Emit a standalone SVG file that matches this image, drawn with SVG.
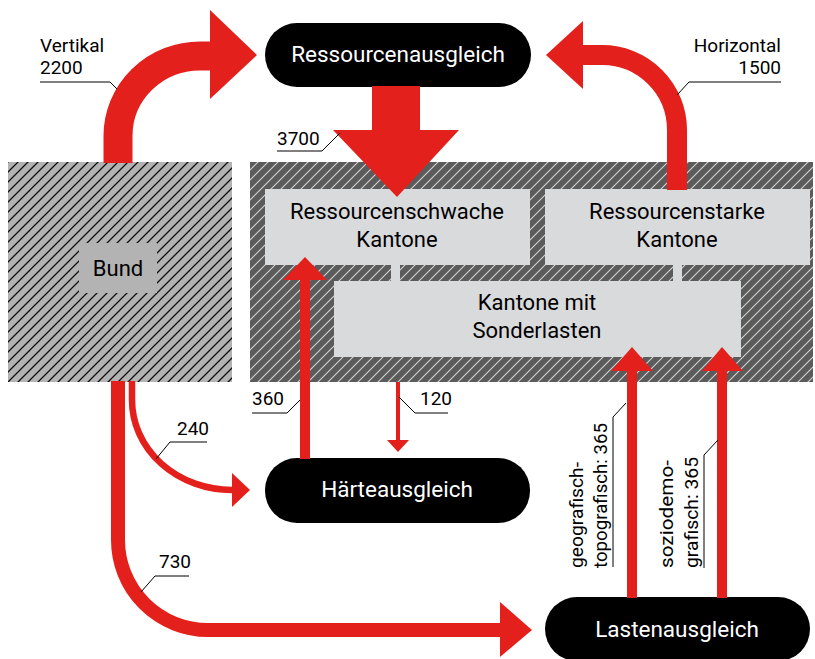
<svg xmlns="http://www.w3.org/2000/svg" width="815" height="659" viewBox="0 0 815 659">
<defs>
<pattern id="hatchBund" patternUnits="userSpaceOnUse" width="10" height="10">
<rect width="10" height="10" fill="#b3b3b3"/>
<path d="M-1,1 L1,-1 M0,10 L10,0 M9,11 L11,9" stroke="#111" stroke-width="1.3"/>
</pattern>
<pattern id="hatchDark" patternUnits="userSpaceOnUse" width="10" height="10">
<rect width="10" height="10" fill="#5b5b5b"/>
<path d="M-1,1 L1,-1 M0,10 L10,0 M9,11 L11,9" stroke="#d2d2d2" stroke-width="1.1"/>
</pattern>
</defs>
<style>
text{font-family:Roboto,"Liberation Sans",sans-serif}
.box{font-size:22px;fill:#000;text-anchor:middle}
.pill{font-size:22.5px;fill:#fff;text-anchor:middle}
.lbl{font-size:19px;fill:#000}
.end{text-anchor:end}
.lead{fill:none;stroke:#000;stroke-width:1}
.flow{fill:none;stroke:#e3201b}
.head{fill:#e3201b}
.light{fill:#d9dadc}
.blk{fill:#000}
</style>

<g id="bund">
<rect x="8" y="162" width="224" height="220" fill="url(#hatchBund)"/>
<rect x="79" y="243" width="78" height="50" fill="#b3b3b3"/>
<text class="box" x="118" y="276">Bund</text>
</g>

<g id="kantone-bereich">
<rect x="250" y="162" width="563" height="220" fill="url(#hatchDark)"/>
<rect class="light" x="391" y="264" width="9" height="18"/>
<rect class="light" x="673" y="264" width="9" height="18"/>
</g>

<g id="ressourcenschwache">
<rect class="light" x="265" y="189" width="265" height="76"/>
<text class="box" x="397" y="219">Ressourcenschwache</text>
<text class="box" x="397" y="247">Kantone</text>
</g>

<g id="ressourcenstarke">
<rect class="light" x="545" y="189" width="265" height="76"/>
<text class="box" x="677" y="219">Ressourcenstarke</text>
<text class="box" x="677" y="247">Kantone</text>
</g>

<g id="sonderlasten">
<rect class="light" x="334" y="281" width="407" height="76"/>
<text class="box" x="537" y="310">Kantone mit</text>
<text class="box" x="537" y="338">Sonderlasten</text>
</g>

<g id="ressourcenausgleich">
<rect class="blk" x="265" y="23" width="266" height="64" rx="32"/>
<text class="pill" x="398" y="62">Ressourcenausgleich</text>
</g>

<g id="haerteausgleich">
<rect class="blk" x="265" y="458" width="265" height="65" rx="32"/>
<text class="pill" x="397" y="497">Härteausgleich</text>
</g>

<g id="lastenausgleich">
<rect class="blk" x="545" y="597" width="265" height="64" rx="32"/>
<text class="pill" x="677" y="637">Lastenausgleich</text>
</g>

<g id="connectors">
<!-- Vertikal 2200 -->
<path class="flow" stroke-width="29" d="M118,163 V136 A82,80 0 0 1 200,56 H212"/>
<polygon class="head" points="210,10 257,55 210,99"/>
<!-- Horizontal 1500 -->
<path class="flow" stroke-width="20" d="M677,190 V130 A75,75 0 0 0 602,55 H581"/>
<polygon class="head" points="583,21 546,55 583,89"/>
<!-- 3700 -->
<polygon class="head" points="372,86 420,86 420,130 459,130 397,197 333,130 372,130"/>
<!-- 360 -->
<path class="flow" stroke-width="10" d="M305,459 V278"/>
<polygon class="head" points="283,280 327,280 305,257"/>
<!-- 120 -->
<path class="flow" stroke-width="4" d="M398,382 V442"/>
<polygon class="head" points="387,440 409,440 398,452"/>
<!-- 240 -->
<path class="flow" stroke-width="6.5" d="M132,381 V400 A100,90 0 0 0 232,490 H234"/>
<polygon class="head" points="232,473 250,490 232,507"/>
<!-- 730 -->
<path class="flow" stroke-width="14" d="M118,381 V540 A90,90 0 0 0 208,630 H502"/>
<polygon class="head" points="500,602 532,630 500,657"/>
<!-- geografisch-topografisch 365 -->
<path class="flow" stroke-width="10" d="M632,598 V369"/>
<polygon class="head" points="611,371 653,371 632,347"/>
<!-- soziodemografisch 365 -->
<path class="flow" stroke-width="10" d="M722,598 V369"/>
<polygon class="head" points="702,371 743,371 722,347"/>

<!-- leader lines -->
<polyline class="lead" points="40,82 110,82 117,89"/>
<polyline class="lead" points="781,82 689,82 677,95"/>
<polyline class="lead" points="277,151 322,151 340,133"/>
<polyline class="lead" points="252,413 287,413 300,400"/>
<polyline class="lead" points="448,413 415,413 399,397"/>
<polyline class="lead" points="207,442 170,442 156,459"/>
<polyline class="lead" points="189,576 155,576 141,592"/>
<polyline class="lead" points="613,567 613,417 626,403"/>
<polyline class="lead" points="704,568 704,455 718,440"/>

<!-- labels -->
<text class="lbl" x="40" y="52">Vertikal</text>
<text class="lbl" x="40" y="74">2200</text>
<text class="lbl end" x="781" y="52">Horizontal</text>
<text class="lbl end" x="781" y="74">1500</text>
<text class="lbl" x="277" y="145">3700</text>
<text class="lbl" x="252" y="405">360</text>
<text class="lbl" x="420" y="405">120</text>
<text class="lbl" x="177" y="435">240</text>
<text class="lbl" x="159" y="568">730</text>
<text class="lbl" transform="translate(583,568) rotate(-90)" textLength="106" lengthAdjust="spacingAndGlyphs">geografisch-</text>
<text class="lbl" transform="translate(607,568) rotate(-90)" textLength="145" lengthAdjust="spacingAndGlyphs">topografisch: 365</text>
<text class="lbl" transform="translate(673,568) rotate(-90)" textLength="108" lengthAdjust="spacingAndGlyphs">soziodemo-</text>
<text class="lbl" transform="translate(698,568) rotate(-90)" textLength="111" lengthAdjust="spacingAndGlyphs">grafisch: 365</text>
</g>
</svg>
